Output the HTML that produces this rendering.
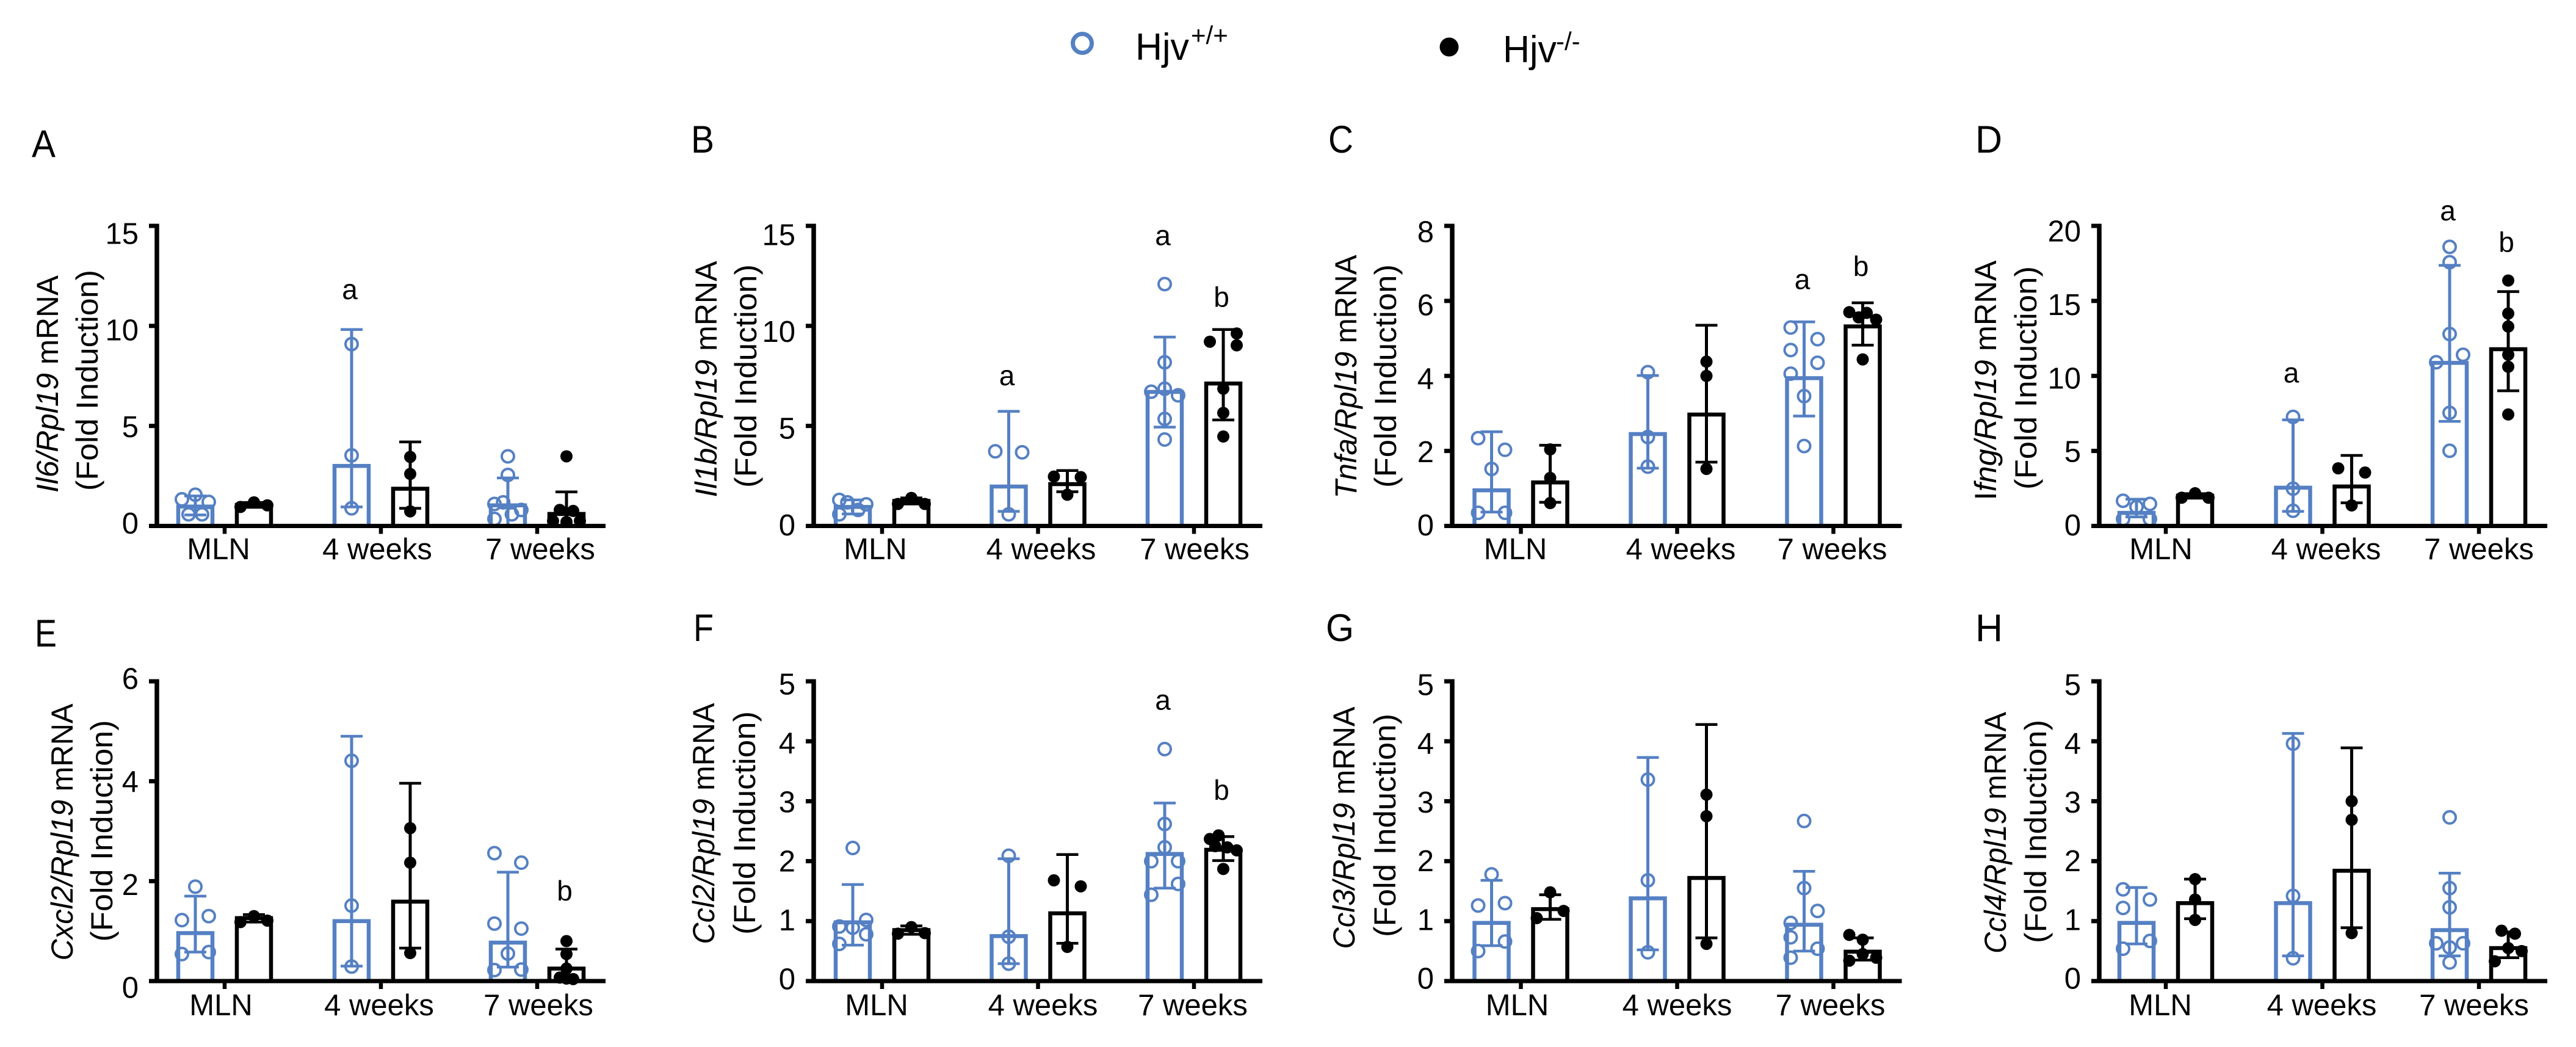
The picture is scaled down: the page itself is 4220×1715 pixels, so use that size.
<!DOCTYPE html>
<html lang="en">
<head>
<meta charset="utf-8">
<title>Hjv cytokine mRNA fold induction</title>
<style>
  html, body { margin: 0; padding: 0; background: #fff; }
  svg { display: block; font-family: "Liberation Sans", Arial, sans-serif; fill: #000; }
</style>
</head>
<body>
<svg id="figure" xmlns="http://www.w3.org/2000/svg" width="4220" height="1715" viewBox="0 0 4220 1715">
  <rect x="0" y="0" width="4220" height="1715" fill="#fff"/>

  <g>
    <circle cx="1773" cy="71" r="15.5" fill="none" stroke="#5580c3" stroke-width="7"/>
    <text x="1860" y="98" font-size="62" textLength="88" lengthAdjust="spacingAndGlyphs">Hjv</text>
    <text x="1951" y="72" font-size="42">+/+</text>
    <circle cx="2374" cy="77" r="15.5" fill="#000"/>
    <text x="2462" y="102" font-size="62" textLength="88" lengthAdjust="spacingAndGlyphs">Hjv</text>
    <text x="2549" y="82" font-size="42">-/-</text>
  </g>

  <g font-size="63">
    <text x="52" y="257" textLength="39" lengthAdjust="spacingAndGlyphs">A</text>
    <text x="1132" y="250" textLength="38" lengthAdjust="spacingAndGlyphs">B</text>
    <text x="2176" y="250" textLength="41" lengthAdjust="spacingAndGlyphs">C</text>
    <text x="3236" y="250" textLength="44" lengthAdjust="spacingAndGlyphs">D</text>
    <text x="57" y="1059" textLength="36" lengthAdjust="spacingAndGlyphs">E</text>
    <text x="1136" y="1050" textLength="33" lengthAdjust="spacingAndGlyphs">F</text>
    <text x="2172" y="1050" textLength="46" lengthAdjust="spacingAndGlyphs">G</text>
    <text x="3236" y="1050" textLength="45" lengthAdjust="spacingAndGlyphs">H</text>
  </g>

  <g font-size="50" text-anchor="middle">
    <text transform="translate(95,629) rotate(-90)" textLength="356" lengthAdjust="spacingAndGlyphs"><tspan font-style="italic">Il6/Rpl19</tspan> mRNA</text>
    <text transform="translate(160,623) rotate(-90)" textLength="362" lengthAdjust="spacingAndGlyphs">(Fold Induction)</text>
    <text transform="translate(1174,621) rotate(-90)" textLength="387" lengthAdjust="spacingAndGlyphs"><tspan font-style="italic">Il1b/Rpl19</tspan> mRNA</text>
    <text transform="translate(1239,616) rotate(-90)" textLength="366" lengthAdjust="spacingAndGlyphs">(Fold Induction)</text>
    <text transform="translate(2222,617) rotate(-90)" textLength="399" lengthAdjust="spacingAndGlyphs"><tspan font-style="italic">Tnfa/Rpl19</tspan> mRNA</text>
    <text transform="translate(2287,616) rotate(-90)" textLength="366" lengthAdjust="spacingAndGlyphs">(Fold Induction)</text>
    <text transform="translate(3270,623) rotate(-90)" textLength="393" lengthAdjust="spacingAndGlyphs">I<tspan font-style="italic">fng/Rpl19</tspan> mRNA</text>
    <text transform="translate(3336,619) rotate(-90)" textLength="366" lengthAdjust="spacingAndGlyphs">(Fold Induction)</text>
    <text transform="translate(119,1363) rotate(-90)" textLength="421" lengthAdjust="spacingAndGlyphs"><tspan font-style="italic">Cxcl2/Rpl19</tspan> mRNA</text>
    <text transform="translate(184,1361) rotate(-90)" textLength="363" lengthAdjust="spacingAndGlyphs">(Fold Induction)</text>
    <text transform="translate(1170,1349) rotate(-90)" textLength="395" lengthAdjust="spacingAndGlyphs"><tspan font-style="italic">Ccl2/Rpl19</tspan> mRNA</text>
    <text transform="translate(1237,1348) rotate(-90)" textLength="366" lengthAdjust="spacingAndGlyphs">(Fold Induction)</text>
    <text transform="translate(2219,1356) rotate(-90)" textLength="397" lengthAdjust="spacingAndGlyphs"><tspan font-style="italic">Ccl3/Rpl19</tspan> mRNA</text>
    <text transform="translate(2286,1352) rotate(-90)" textLength="366" lengthAdjust="spacingAndGlyphs">(Fold Induction)</text>
    <text transform="translate(3286,1364) rotate(-90)" textLength="396" lengthAdjust="spacingAndGlyphs"><tspan font-style="italic">Ccl4/Rpl19</tspan> mRNA</text>
    <text transform="translate(3352,1362) rotate(-90)" textLength="366" lengthAdjust="spacingAndGlyphs">(Fold Induction)</text>
  </g>

  <g id="charts"></g>
</svg>

<script>
// Shared categories. Bar order in every array: WT MLN, KO MLN, WT 4wk, KO 4wk, WT 7wk, KO 7wk.
const groupLabels = ['MLN', '4 weeks', '7 weeks'];
const seriesNames = ['wild-type', 'knockout'];

// Panel A - Il6
const il6Ticks = [0, 5, 10, 15];
const il6Mean = [0.97, 1.05, 3.0, 1.86, 1.03, 0.6];
const il6Upper = [1.5, 1.17, 9.82, 4.2, 2.4, 1.7];
const il6Lower = [0.55, 0.93, 0.95, 0.88, 0, 0];
const il6Points = [[1.33, 1.56, 1.2, 0.58, 0.58], [0.95, 1.18, 1.03], [9.09, 3.53, 0.88], [3.45, 2.6, 0.73], [3.48, 2.55, 1.1, 1.18, 0.8, 0.58, 0.35], [3.48, 0.8, 0.75, 0.25, 0.25, 0.2]];
const il6Lanes = [[-1, 0, 1, -0.5, 0.5], [-1, 0, 1], [0, 0, 0], [0, 0, 0], [0, 0, -1, -0.35, 1, 0.3, -1], [0, -0.5, 0.5, -1, 1, 0]];
const il6Notes = ['', '', 'a', '', '', ''];
const il6NoteLevels = [0, 0, 11.7, 0, 0, 0];

// Panel B - Il1b
const il1bTicks = [0, 5, 10, 15];
const il1bMean = [0.95, 1.25, 1.97, 2.09, 6.7, 7.12];
const il1bUpper = [1.3, 1.4, 5.73, 2.77, 9.44, 9.82];
const il1bLower = [0.6, 1.1, 0.73, 1.71, 4.94, 5.3];
const il1bPoints = [[1.3, 1.18, 1.08, 0.8, 0.58], [1.1, 1.4, 1.1], [3.73, 3.68, 0.58], [2.47, 2.44, 1.56], [12.09, 8.18, 6.86, 6.71, 6.53, 5.35, 4.32], [9.62, 9.21, 9.03, 6.86, 5.65, 4.47]];
const il1bLanes = [[-1, -0.4, 1, 0.4, -1], [-1, 0, 1], [-1, 1, 0], [-1, 1, 0], [0, 0, 0, -1, 1, 0, 0], [1, -1, 1, 0, 0, 0]];
const il1bNotes = ['', '', 'a', '', 'a', 'b'];
const il1bNoteLevels = [0, 0, 7.4, 0, 14.4, 11.5];

// Panel C - Tnfa
const tnfaTicks = [0, 2, 4, 6, 8];
const tnfaMean = [0.95, 1.16, 2.45, 2.97, 3.94, 5.32];
const tnfaUpper = [2.51, 2.15, 4.01, 5.35, 5.44, 5.95];
const tnfaLower = [0.37, 0.63, 1.54, 1.7, 2.93, 4.82];
const tnfaPoints = [[2.34, 2.03, 1.52, 0.35, 0.35], [2.04, 1.28, 0.61], [4.1, 2.37, 1.58], [4.38, 4.0, 1.52], [5.29, 4.98, 4.69, 4.35, 4.06, 3.46, 2.13], [5.7, 5.56, 5.68, 5.5, 4.44]];
const tnfaLanes = [[-1, 1, 0, -1, 1], [0, 0, 0], [0, 0, 0], [0, 0, 0], [-1, 1, -1, 1, -1, 0, 0], [-1, -0.3, 0.3, 1, 0]];
const tnfaNotes = ['', '', '', '', 'a', 'b'];
const tnfaNoteLevels = [0, 0, 0, 0, 6.51, 6.96];

// Panel D - Ifng
const ifngTicks = [0, 5, 10, 15, 20];
const ifngMean = [0.87, 2.02, 2.55, 2.63, 10.87, 11.78];
const ifngUpper = [1.78, 2.15, 7.07, 4.7, 17.37, 15.62];
const ifngLower = [0.6, 1.85, 0.97, 1.54, 6.97, 9.01];
const ifngPoints = [[1.68, 1.47, 1.27, 0.46, 0.46], [1.88, 2.18, 1.88], [7.27, 2.48, 1.01], [3.84, 3.56, 1.37], [18.6, 17.58, 12.79, 11.41, 10.91, 7.54, 5.01], [16.36, 14.16, 13.29, 11.41, 10.61, 7.43]];
const ifngLanes = [[-1, 1, 0, -1, 1], [-1, 0, 1], [0, 0, 0], [-1, 1, 0], [0, 0, 0, 1, -1, 0, 0], [0, 0, 0, 0, 0, 0]];
const ifngNotes = ['', '', 'a', '', 'a', 'b'];
const ifngNoteLevels = [0, 0, 10.06, 0, 20.85, 19];

// Panel E - Cxcl2
const cxcl2Ticks = [0, 2, 4, 6];
const cxcl2Mean = [0.96, 1.26, 1.2, 1.59, 0.77, 0.25];
const cxcl2Upper = [1.7, 1.33, 4.9, 3.96, 2.18, 0.64];
const cxcl2Lower = [0.58, 1.18, 0.3, 0.66, 0.28, 0];
const cxcl2Points = [[1.89, 1.22, 1.3, 0.54, 0.58], [1.18, 1.3, 1.21], [4.41, 1.51, 0.29], [3.06, 2.37, 0.56], [2.56, 2.37, 1.15, 1.05, 0.55, 0.22, 0.23], [0.8, 0.54, 0.25, 0.07, 0.04, 0.05]];
const cxcl2Lanes = [[0, -1, 1, -1, 1], [-1, 0, 1], [0, 0, 0], [0, 0, 0], [-1, 1, -1, 1, 0, -1, 1], [0, 0, 0, -0.5, 0.5, 0]];
const cxcl2Notes = ['', '', '', '', '', 'b'];
const cxcl2NoteLevels = [0, 0, 0, 0, 0, 1.83];

// Panel F - Ccl2
const ccl2Ticks = [0, 1, 2, 3, 4, 5];
const ccl2Mean = [0.98, 0.85, 0.75, 1.13, 2.12, 2.19];
const ccl2Upper = [1.61, 0.92, 2.04, 2.11, 2.97, 2.41];
const ccl2Lower = [0.6, 0.78, 0.29, 0.63, 1.55, 2.01];
const ccl2Points = [[2.22, 1.02, 0.91, 0.78, 0.62, 0.89], [0.79, 0.9, 0.8], [2.09, 0.74, 0.29], [1.68, 1.58, 0.57], [3.87, 2.62, 2.23, 2.0, 2.0, 1.62, 1.44], [2.37, 2.43, 2.25, 2.23, 2.18, 1.87]];
const ccl2Lanes = [[0, 1, -1, 1, -1, 0], [-1, 0, 1], [0, 0, 0], [-1, 1, 0], [0, 0, 0, -1, 1, 1, -1], [-1, -0.35, -0.6, 0.3, 1, 0]];
const ccl2Notes = ['', '', '', '', 'a', 'b'];
const ccl2NoteLevels = [0, 0, 0, 0, 4.65, 3.21];

// Panel G - Ccl3
const ccl3Ticks = [0, 1, 2, 3, 4, 5];
const ccl3Mean = [0.97, 1.2, 1.38, 1.72, 0.94, 0.49];
const ccl3Upper = [1.68, 1.44, 3.73, 4.28, 1.83, 0.72];
const ccl3Lower = [0.59, 1.03, 0.52, 0.72, 0.5, 0.35];
const ccl3Points = [[1.78, 1.26, 1.3, 0.66, 0.5], [1.48, 1.17, 1.05], [3.36, 1.68, 0.48], [3.11, 2.75, 0.62], [2.67, 1.55, 1.17, 0.97, 0.73, 0.54, 0.39], [0.77, 0.69, 0.45, 0.39, 0.34]];
const ccl3Lanes = [[0, -1, 1, 1, -1], [0, 1, -1], [0, 0, 0], [0, 0, 0], [0, 0, 1, -1, -1, 1, -1], [-1, 0, 0, 1, -1]];
const ccl3Notes = ['', '', '', '', '', ''];
const ccl3NoteLevels = [0, 0, 0, 0, 0, 0];

// Panel H - Ccl4
const ccl4Ticks = [0, 1, 2, 3, 4, 5];
const ccl4Mean = [0.97, 1.3, 1.3, 1.84, 0.85, 0.55];
const ccl4Upper = [1.56, 1.7, 4.13, 3.89, 1.8, 0.82];
const ccl4Lower = [0.62, 1.04, 0.42, 0.89, 0.42, 0.39];
const ccl4Points = [[1.53, 1.36, 1.22, 0.67, 0.54], [1.7, 1.36, 1.02], [3.96, 1.42, 0.38], [3.0, 2.69, 0.8], [2.73, 1.55, 1.23, 0.63, 0.63, 0.56, 0.31], [0.84, 0.79, 0.55, 0.5, 0.33]];
const ccl4Lanes = [[-1, 1, -1, 1, -1], [0, 0, 0], [0, 0, 0], [0, 0, 0], [0, 0, 0, -1, 1, 0, 0], [-0.5, 0.5, 0, 1, -1]];
const ccl4Notes = ['', '', '', '', '', ''];
const ccl4NoteLevels = [0, 0, 0, 0, 0, 0];

// Layout of each panel (separate from the data above).
const rowOne = { base: 861.5, top: 370, labelY: 916 };
const rowTwo = { base: 1607, top: 1116, labelY: 1663 };
const panels = [
  { id: 'a', row: rowOne, axisX: 257, tick0: 368, step: 256, shift: [-5, 12], xShift: [-10, -6, 5], ticks: il6Ticks, mean: il6Mean, upper: il6Upper, lower: il6Lower, points: il6Points, lanes: il6Lanes, notes: il6Notes, noteLevels: il6NoteLevels },
  { id: 'b', row: rowOne, axisX: 1333, tick0: 1445, step: 255.5, shift: [-2, 14], xShift: [-11, 5, 1], ticks: il1bTicks, mean: il1bMean, upper: il1bUpper, lower: il1bLower, points: il1bPoints, lanes: il1bLanes, notes: il1bNotes, noteLevels: il1bNoteLevels },
  { id: 'c', row: rowOne, axisX: 2379, tick0: 2491.5, step: 256, shift: [-2, 9], xShift: [-9, 6, -2], ticks: tnfaTicks, mean: tnfaMean, upper: tnfaUpper, lower: tnfaLower, points: tnfaPoints, lanes: tnfaLanes, notes: tnfaNotes, noteLevels: tnfaNoteLevels },
  { id: 'd', row: rowOne, axisX: 3439, tick0: 3548, step: 256.5, shift: [-2, 8], xShift: [-8, 6, 0], ticks: ifngTicks, mean: ifngMean, upper: ifngUpper, lower: ifngLower, points: ifngPoints, lanes: ifngLanes, notes: ifngNotes, noteLevels: ifngNoteLevels },
  { id: 'e', row: rowTwo, axisX: 257, tick0: 368, step: 256, shift: [10, -5], xShift: [-6, -3, 2], ticks: cxcl2Ticks, mean: cxcl2Mean, upper: cxcl2Upper, lower: cxcl2Lower, points: cxcl2Points, lanes: cxcl2Lanes, notes: cxcl2Notes, noteLevels: cxcl2NoteLevels },
  { id: 'f', row: rowTwo, axisX: 1333, tick0: 1445, step: 255.5, shift: [-4, 4], xShift: [-9, 8, -2], ticks: ccl2Ticks, mean: ccl2Mean, upper: ccl2Upper, lower: ccl2Lower, points: ccl2Points, lanes: ccl2Lanes, notes: ccl2Notes, noteLevels: ccl2NoteLevels },
  { id: 'g', row: rowTwo, axisX: 2379, tick0: 2491.5, step: 256, shift: [-5, 5], xShift: [-6, 0, -5], ticks: ccl3Ticks, mean: ccl3Mean, upper: ccl3Upper, lower: ccl3Lower, points: ccl3Points, lanes: ccl3Lanes, notes: ccl3Notes, noteLevels: ccl3NoteLevels },
  { id: 'h', row: rowTwo, axisX: 3439, tick0: 3548, step: 256.5, shift: [-5, 5], xShift: [-9, -1, -8], ticks: ccl4Ticks, mean: ccl4Mean, upper: ccl4Upper, lower: ccl4Lower, points: ccl4Points, lanes: ccl4Lanes, notes: ccl4Notes, noteLevels: ccl4NoteLevels }
];

const BLUE = '#5580c3';
const BLACK = '#000000';
const SVG_NS = 'http://www.w3.org/2000/svg';
const BAR_OFFSET = 48;
const BAR_WIDTH = 56;
const LANE_WIDTH = 22;
const CAP_HALF = 18;

function make(parent, tag, attrs) {
  const node = document.createElementNS(SVG_NS, tag);
  Object.keys(attrs).forEach(function (key) { node.setAttribute(key, attrs[key]); });
  parent.appendChild(node);
  return node;
}

function drawPanel(p) {
  const root = document.getElementById('charts');
  const maxValue = p.ticks[p.ticks.length - 1];
  const yScale = function (v) { return p.row.base - (v / maxValue) * (p.row.base - p.row.top); };
  const tickX = function (g) { return p.tick0 + g * p.step; };
  const barX = function (i) {
    const g = Math.floor(i / 2);
    return tickX(g) + (i % 2 === 0 ? -BAR_OFFSET : BAR_OFFSET);
  };

  const chart = make(root, 'g', {});
  
  

  for (let i = 0; i < p.mean.length; i++) {
    const color = i % 2 === 0 ? BLUE : BLACK;
    const series = seriesNames[i % 2];
    const group = groupLabels[Math.floor(i / 2)].replace(' ', '-').toLowerCase();
    const cx = barX(i);
    const yMean = yScale(p.mean[i]);

    const bar = make(chart, 'rect', { x: cx - BAR_WIDTH / 2, y: yMean, width: BAR_WIDTH, height: p.row.base - yMean, fill: 'none', stroke: color, 'stroke-width': 6.5 });
    
    

    const yUp = yScale(p.upper[i]);
    const yLow = yScale(p.lower[i]);
    const stemD = 'M' + cx + ' ' + yUp + 'V' + yLow;
    const stem = make(chart, 'path', { d: stemD, fill: 'none', stroke: color, 'stroke-width': 5 });
    
    

    const capD = 'M' + (cx - CAP_HALF) + ' ' + yUp + 'H' + (cx + CAP_HALF) +
      'M' + (cx - CAP_HALF) + ' ' + yLow + 'H' + (cx + CAP_HALF);
    const caps = make(chart, 'path', { d: capD, fill: 'none', stroke: color, 'stroke-width': 4.5 });
    
    

    p.points[i].forEach(function (v, k) {
      const px = cx + p.lanes[i][k] * LANE_WIDTH;
      const py = yScale(v);
      const attrs = i % 2 === 0
        ? { cx: px, cy: py, r: 10, fill: 'none', stroke: BLUE, 'stroke-width': 4 }
        : { cx: px, cy: py, r: 10, fill: BLACK };
      const dot = make(chart, 'circle', attrs);
      
      
    });

    if (p.notes[i]) {
      const note = make(chart, 'text', { x: cx - 3, y: yScale(p.noteLevels[i]) + (p.notes[i] === 'a' ? 12 : 18), 'text-anchor': 'middle', 'font-size': 46 });
      note.textContent = p.notes[i];
      
      
    }
  }

  const axisEnd = tickX(2) + 112;
  const yAxis = make(chart, 'line', { x1: p.axisX, x2: p.axisX, y1: p.row.top - 3.5, y2: p.row.base + 3.5, stroke: BLACK, 'stroke-width': 7.5 });
  
  

  const xAxis = make(chart, 'line', { x1: p.axisX - 13, x2: axisEnd, y1: p.row.base, y2: p.row.base, stroke: BLACK, 'stroke-width': 7 });
  
  

  p.ticks.forEach(function (t) {
    const y = yScale(t);
    const frac = t / maxValue;
    const tickMark = make(chart, 'line', { x1: p.axisX - 13, x2: p.axisX, y1: y, y2: y, stroke: BLACK, 'stroke-width': 7 });
    
    
    const labelCenter = y + p.shift[0] + (p.shift[1] - p.shift[0]) * frac;
    const label = make(chart, 'text', { x: p.axisX - 30, y: labelCenter + 17.5, 'text-anchor': 'end', 'font-size': 49 });
    label.textContent = String(t);
    
    
  });

  groupLabels.forEach(function (name, g) {
    const x = tickX(g);
    const tickMark = make(chart, 'line', { x1: x, x2: x, y1: p.row.base, y2: p.row.base + 13, stroke: BLACK, 'stroke-width': 6.5 });
    
    
    const label = make(chart, 'text', { x: x + p.xShift[g], y: p.row.labelY, 'text-anchor': 'middle', 'font-size': 49 });
    label.textContent = name;
    
    
  });
}

panels.forEach(drawPanel);
</script>
</body>
</html>
